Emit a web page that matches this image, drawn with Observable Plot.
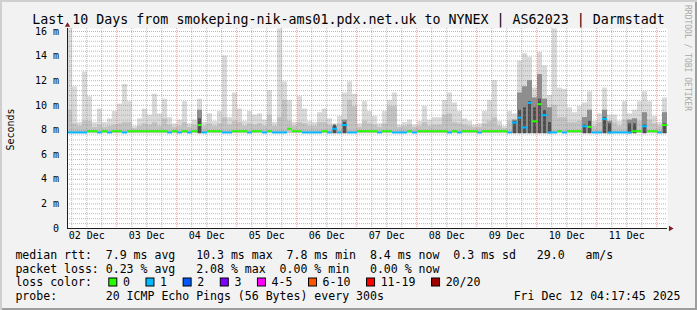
<!DOCTYPE html>
<html>
<head>
<meta charset="utf-8">
<script src="https://cdn.jsdelivr.net/npm/d3@7"></script>
<script src="https://cdn.jsdelivr.net/npm/@observablehq/plot@0.6"></script>
<style>
  body { margin: 0; background: #fff; }
  #wrap { position: relative; width: 697px; height: 310px; background: #f2f2f2;
          box-shadow: inset 2px 2px 0 #cfcfcf, inset -2px -2px 0 #9e9e9e; overflow: hidden; }
  #wrap svg { position: absolute; left: 0; top: 0; }
</style>
</head>
<body>
<div id="wrap"></div>
<script>
// ---------- data (2-hour columns, 02 Dec 04:17:45 -> 12 Dec 04:17:45) ----------
const titleText = "Last 10 Days from smokeping-nik-ams01.pdx.net.uk to NYNEX | AS62023 | Darmstadt";
const startTime = "2025-12-02T04:17:45Z";
const endTime = "2025-12-12T04:17:45Z";
const smokeFloor = 7.7;

const maxRtt = [
  16.3, 11.5, 8.6, 12.7, 10.7, 8.6, 9.7, 8.6, 8.9, 9.5, 10.1, 11.7, 10.3, 8.3, 8.9, 9.7, 9.2, 10.9, 9.3, 10.5, 9.0, 8.5, 8.8, 10.3,
  8.5, 8.8, 10.5, 8.6, 9.3, 8.7, 9.5, 14.0, 9.0, 11.0, 9.7, 8.7, 9.5, 9.2, 9.3, 8.8, 11.2, 8.6, 16.2, 11.9, 10.4, 8.6, 10.7, 9.7,
  8.7, 8.6, 9.4, 9.7, 8.9, 8.5, 9.1, 11.0, 11.9, 10.9, 8.5, 10.3, 9.5, 9.1, 8.5, 9.5, 10.4, 11.0, 8.4, 8.6, 8.8, 8.4, 8.7, 9.9,
  8.8, 9.0, 9.0, 10.4, 11.0, 10.2, 9.5, 8.9, 8.7, 8.4, 8.5, 9.5, 10.4, 12.0, 8.7, 8.3, 9.5, 9.3, 13.6, 14.2, 13.9, 11.4, 14.3, 13.2,
  10.8, 16.2, 11.4, 11.3, 9.8, 9.4, 9.9, 10.2, 11.1, 8.7, 9.3, 11.4, 9.2, 9.2, 8.7, 10.3, 9.3, 9.6, 10.3, 11.1, 10.3, 9.1, 8.6, 10.6
];
const midRtt = [
  9.6, 8.5, 8.3, 8.7, 8.7, 8.2, 8.4, 8.2, 8.3, 8.4, 8.5, 8.6, 8.6, 8.1, 8.3, 8.5, 8.4, 8.6, 8.3, 8.9, 8.4, 8.2, 8.3, 8.6,
  8.2, 8.4, 9.6, 8.3, 8.5, 8.3, 8.5, 9.0, 8.4, 8.7, 8.6, 8.3, 8.5, 8.4, 8.5, 8.3, 9.2, 8.3, 9.0, 10.4, 8.7, 8.3, 8.6, 8.5,
  8.3, 8.3, 8.6, 8.6, 8.4, 8.3, 8.5, 8.8, 10.4, 9.9, 8.2, 8.7, 8.5, 8.4, 8.2, 8.5, 9.9, 9.9, 8.2, 8.3, 8.4, 8.2, 8.3, 8.6,
  8.3, 8.4, 8.4, 9.2, 9.3, 8.6, 8.5, 8.4, 8.3, 8.2, 8.2, 8.5, 8.7, 9.0, 8.3, 8.1, 8.7, 8.8, 11.0, 11.5, 12.0, 10.6, 12.5, 10.5,
  9.8, 10.0, 9.0, 9.0, 8.6, 8.6, 8.7, 9.0, 9.6, 8.3, 8.6, 9.6, 8.7, 8.6, 8.3, 8.8, 8.8, 8.9, 8.7, 9.4, 8.8, 8.5, 8.3, 9.4
];
const darkRtt = [
  null, null, null, null, null, null, null, null, null, null, null, null, null, null, null, null, null, null, null, null, null, null, null, null,
  null, null, 8.9, null, null, null, null, null, null, null, null, null, null, null, null, null, null, null, null, null, null, null, null, null,
  null, null, null, null, null, 8.4, null, 8.6, null, null, null, null, null, null, null, null, null, null, null, null, null, null, null, null,
  null, null, null, null, null, null, null, null, null, null, null, null, null, null, null, null, null, 8.7, 9.6, 9.8, 10.3, 9.8, 10.5, 9.6,
  8.6, null, null, null, null, null, null, 8.4, 8.7, null, null, 9.0, 8.5, null, null, null, 8.5, 8.5, null, 8.4, null, null, null, 8.5
];
const medianRtt = [
  7.8, 7.8, 7.8, 7.8, 7.9, 7.9, 7.8, 7.9, 7.8, 7.9, 7.9, 7.8, 7.9, 7.9, 7.9, 7.9, 7.9, 7.9, 7.9, 7.9, 7.8, 7.9, 7.8, 7.9,
  7.8, 7.9, 8.4, 7.8, 7.9, 7.9, 7.9, 7.8, 7.8, 7.9, 7.9, 7.9, 7.8, 7.9, 7.9, 7.8, 7.9, 7.8, 7.8, 7.8, 8.1, 7.9, 7.9, 7.8,
  7.8, 7.8, 7.8, 7.9, 7.8, 8.1, 7.8, 8.4, 7.8, 7.8, 7.9, 7.9, 7.9, 7.9, 7.8, 7.9, 7.9, 7.8, 7.8, 7.8, 7.9, 7.8, 7.9, 7.9,
  7.9, 7.9, 7.9, 7.9, 7.8, 7.9, 7.8, 7.9, 7.9, 7.9, 7.8, 7.9, 7.9, 7.9, 7.9, 7.9, 7.8, 8.6, 9.0, 8.2, 10.2, 8.7, 10.1, 9.2,
  7.8, 7.8, 7.9, 7.8, 7.9, 7.9, 7.9, 8.3, 8.25, 7.8, 7.8, 8.9, 7.8, 7.8, 7.8, 7.8, 7.8, 7.9, 7.9, 8.3, 7.9, 7.9, 7.8, 8.4
];
const lostPings = [
  1, 1, 1, 1, 0, 0, 1, 0, 1, 0, 0, 1, 0, 0, 0, 0, 0, 0, 0, 0, 1, 0, 1, 0,
  1, 0, 0, 1, 0, 0, 0, 1, 1, 0, 0, 0, 1, 0, 0, 1, 0, 1, 1, 1, 0, 0, 0, 1,
  1, 1, 1, 0, 1, 1, 1, 1, 1, 1, 0, 0, 0, 0, 1, 0, 0, 1, 1, 1, 0, 1, 0, 0,
  0, 0, 0, 0, 1, 0, 1, 0, 0, 0, 1, 0, 0, 0, 0, 0, 1, 1, 1, 1, 1, 0, 0, 1,
  1, 1, 0, 1, 0, 0, 0, 1, 0, 1, 1, 1, 1, 1, 1, 1, 1, 0, 0, 1, 0, 0, 1, 0
];

const yTicks = [0, 2, 4, 6, 8, 10, 12, 14, 16];
const yTickLabels = ["0", "2 m", "4 m", "6 m", "8 m", "10 m", "12 m", "14 m", "16 m"];
const xTicks = ["2025-12-02T12:00:00Z", "2025-12-03T12:00:00Z", "2025-12-04T12:00:00Z", "2025-12-05T12:00:00Z", "2025-12-06T12:00:00Z",
                "2025-12-07T12:00:00Z", "2025-12-08T12:00:00Z", "2025-12-09T12:00:00Z", "2025-12-10T12:00:00Z", "2025-12-11T12:00:00Z"];
const xTickLabels = ["02 Dec", "03 Dec", "04 Dec", "05 Dec", "06 Dec", "07 Dec", "08 Dec", "09 Dec", "10 Dec", "11 Dec"];

const lossLabels = ["0", "1", "2", "3", "4-5", "6-10", "11-19", "20/20"];
const lossColors = ["#26ff00", "#00b8ff", "#0059ff", "#7e00ff", "#ff00ff", "#ff5500", "#ff0000", "#a10000"];
const lossUpper = [0, 1, 2, 3, 5, 10, 19, 20];

const legendRows = [
  "median rtt:  7.9 ms avg   10.3 ms max  7.8 ms min  8.4 ms now  0.3 ms sd   29.0   am/s",
  "packet loss: 0.23 % avg   2.08 % max  0.00 % min   0.00 % now",
  "loss color:",
  "probe:       20 ICMP Echo Pings (56 Bytes) every 300s"
];
const dateText = "Fri Dec 12 04:17:45 2025";
const yLabel = "Seconds";
const watermark = "RRDTOOL / TOBI OETIKER";

// ---------- build ----------
const MONO = "DejaVu Sans Mono, monospace";
const start = new Date(startTime), end = new Date(endTime);
const STEP = 2 * 3600 * 1000;
const lossIndex = n => lossUpper.findIndex(u => n <= u);
const cols = maxRtt.map((m, i) => ({
  t0: new Date(+start + i * STEP), t1: new Date(+start + (i + 1) * STEP),
  max: m, mid: midRtt[i], dark: darkRtt[i], med: medianRtt[i], color: lossColors[lossIndex(lostPings[i])]
}));
const darkCols = cols.filter(d => d.dark != null);

const majorX = d3.utcDay.range(start, end);
const minorX = d3.utcHour.every(6).range(start, end).filter(d => d.getUTCHours() !== 0);
const minorY = d3.range(1, 41).filter(i => i % 5 !== 0).map(i => i * 0.4);
const majorY = yTicks.filter(v => v > 0);
const xTickDates = xTicks.map(s => new Date(s));

const gridMinor = {stroke: "#8f8f8f", strokeOpacity: 0.6, strokeDasharray: "1,1"};
const gridMajor = {stroke: "#de4f4f", strokeOpacity: 0.55, strokeDasharray: "1,1"};

const chart = Plot.plot({
  width: 697, height: 310,
  marginLeft: 67, marginRight: 30, marginTop: 28, marginBottom: 82,
  x: {type: "utc", domain: [start, end], axis: null},
  y: {domain: [0, 16.24], axis: null},
  style: {background: "transparent", overflow: "visible"},
  marks: [
    Plot.frame({fill: "#ffffff", stroke: null}),
    Plot.rect(cols, {x1: "t0", x2: "t1", y1: () => smokeFloor, y2: "max", fill: "#dadada", clip: true}),
    Plot.rect(cols, {x1: "t0", x2: "t1", y1: () => smokeFloor, y2: "mid", fill: "#c3c3c3", clip: true}),
    Plot.rect(darkCols, {x1: "t0", x2: "t1", y1: () => smokeFloor, y2: "mid", fill: "#8e8e8e", clip: true}),
    Plot.rect(darkCols, {x1: "t0", x2: "t1", y1: () => smokeFloor, y2: "dark", fill: "#4e4e4e", insetLeft: 1, insetRight: 1, clip: true}),
    Plot.ruleX(minorX, gridMinor),
    Plot.ruleY(minorY, gridMinor),
    Plot.ruleX(majorX, gridMajor),
    Plot.ruleY(majorY, gridMajor),
    Plot.ruleY(cols, {x1: "t0", x2: "t1", y: "med", stroke: "color", strokeWidth: 2}),
    Plot.ruleY([0], {stroke: "#1f1f1f"}),
    Plot.ruleX([start], {stroke: "#1f1f1f"}),
    Plot.dot([end], {x: d => d, y: () => 0, symbol: "triangle", r: 2, rotate: 90, fill: "#801f1f", stroke: null, dx: 3}),
    Plot.dot([start], {x: d => d, y: () => 16.24, symbol: "triangle", r: 2, fill: "#801f1f", stroke: null, dy: -3.2}),
    Plot.text(yTicks, {y: d => d, frameAnchor: "left", text: (d, i) => yTickLabels[i], textAnchor: "end", dx: -8.5,
      fontFamily: MONO, fontSize: 10, fill: "#000"}),
    Plot.text(xTickDates, {x: d => d, frameAnchor: "bottom", text: (d, i) => xTickLabels[i], dy: 10.3,
      fontFamily: MONO, fontSize: 10, fill: "#000"})
  ]
});
const wrap = document.getElementById("wrap");
wrap.appendChild(chart);

// ---------- title, legend, labels ----------
const svg = d3.select(wrap).append("svg").attr("width", 697).attr("height", 310)
  .style("font-family", MONO);
svg.append("text").attr("x", 348.5).attr("y", 24).attr("text-anchor", "middle")
  .attr("font-size", 13.3).text(titleText);
svg.append("text").attr("transform", "translate(14,129.5) rotate(-90)").attr("text-anchor", "middle")
  .attr("font-size", 10).text(yLabel);
svg.append("text").attr("transform", "translate(685,5) rotate(90)")
  .attr("font-size", 8).attr("fill", "#a9a9a9").text(watermark);

const rowY = [259, 272.7, 286.4, 300];
const CW = 6.96, FS = 11.56, X0 = 15.4;
legendRows.forEach((t, i) => {
  svg.append("text").attr("x", X0).attr("y", rowY[i]).attr("font-size", FS)
    .style("white-space", "pre").attr("xml:space", "preserve").text(t);
});
svg.append("text").attr("x", 680.5).attr("y", rowY[3]).attr("font-size", FS).attr("text-anchor", "end").text(dateText);

let sx = 108.3;
lossLabels.forEach((lab, i) => {
  svg.append("rect").attr("x", sx + 0.5).attr("y", 278).attr("width", 8).attr("height", 8)
    .attr("fill", lossColors[i]).attr("stroke", "#000").attr("stroke-width", 1);
  svg.append("text").attr("x", sx + 14.6).attr("y", rowY[2]).attr("font-size", FS).text(lab);
  sx += 15 + lab.length * CW + 15.2;
});
</script>
</body>
</html>
